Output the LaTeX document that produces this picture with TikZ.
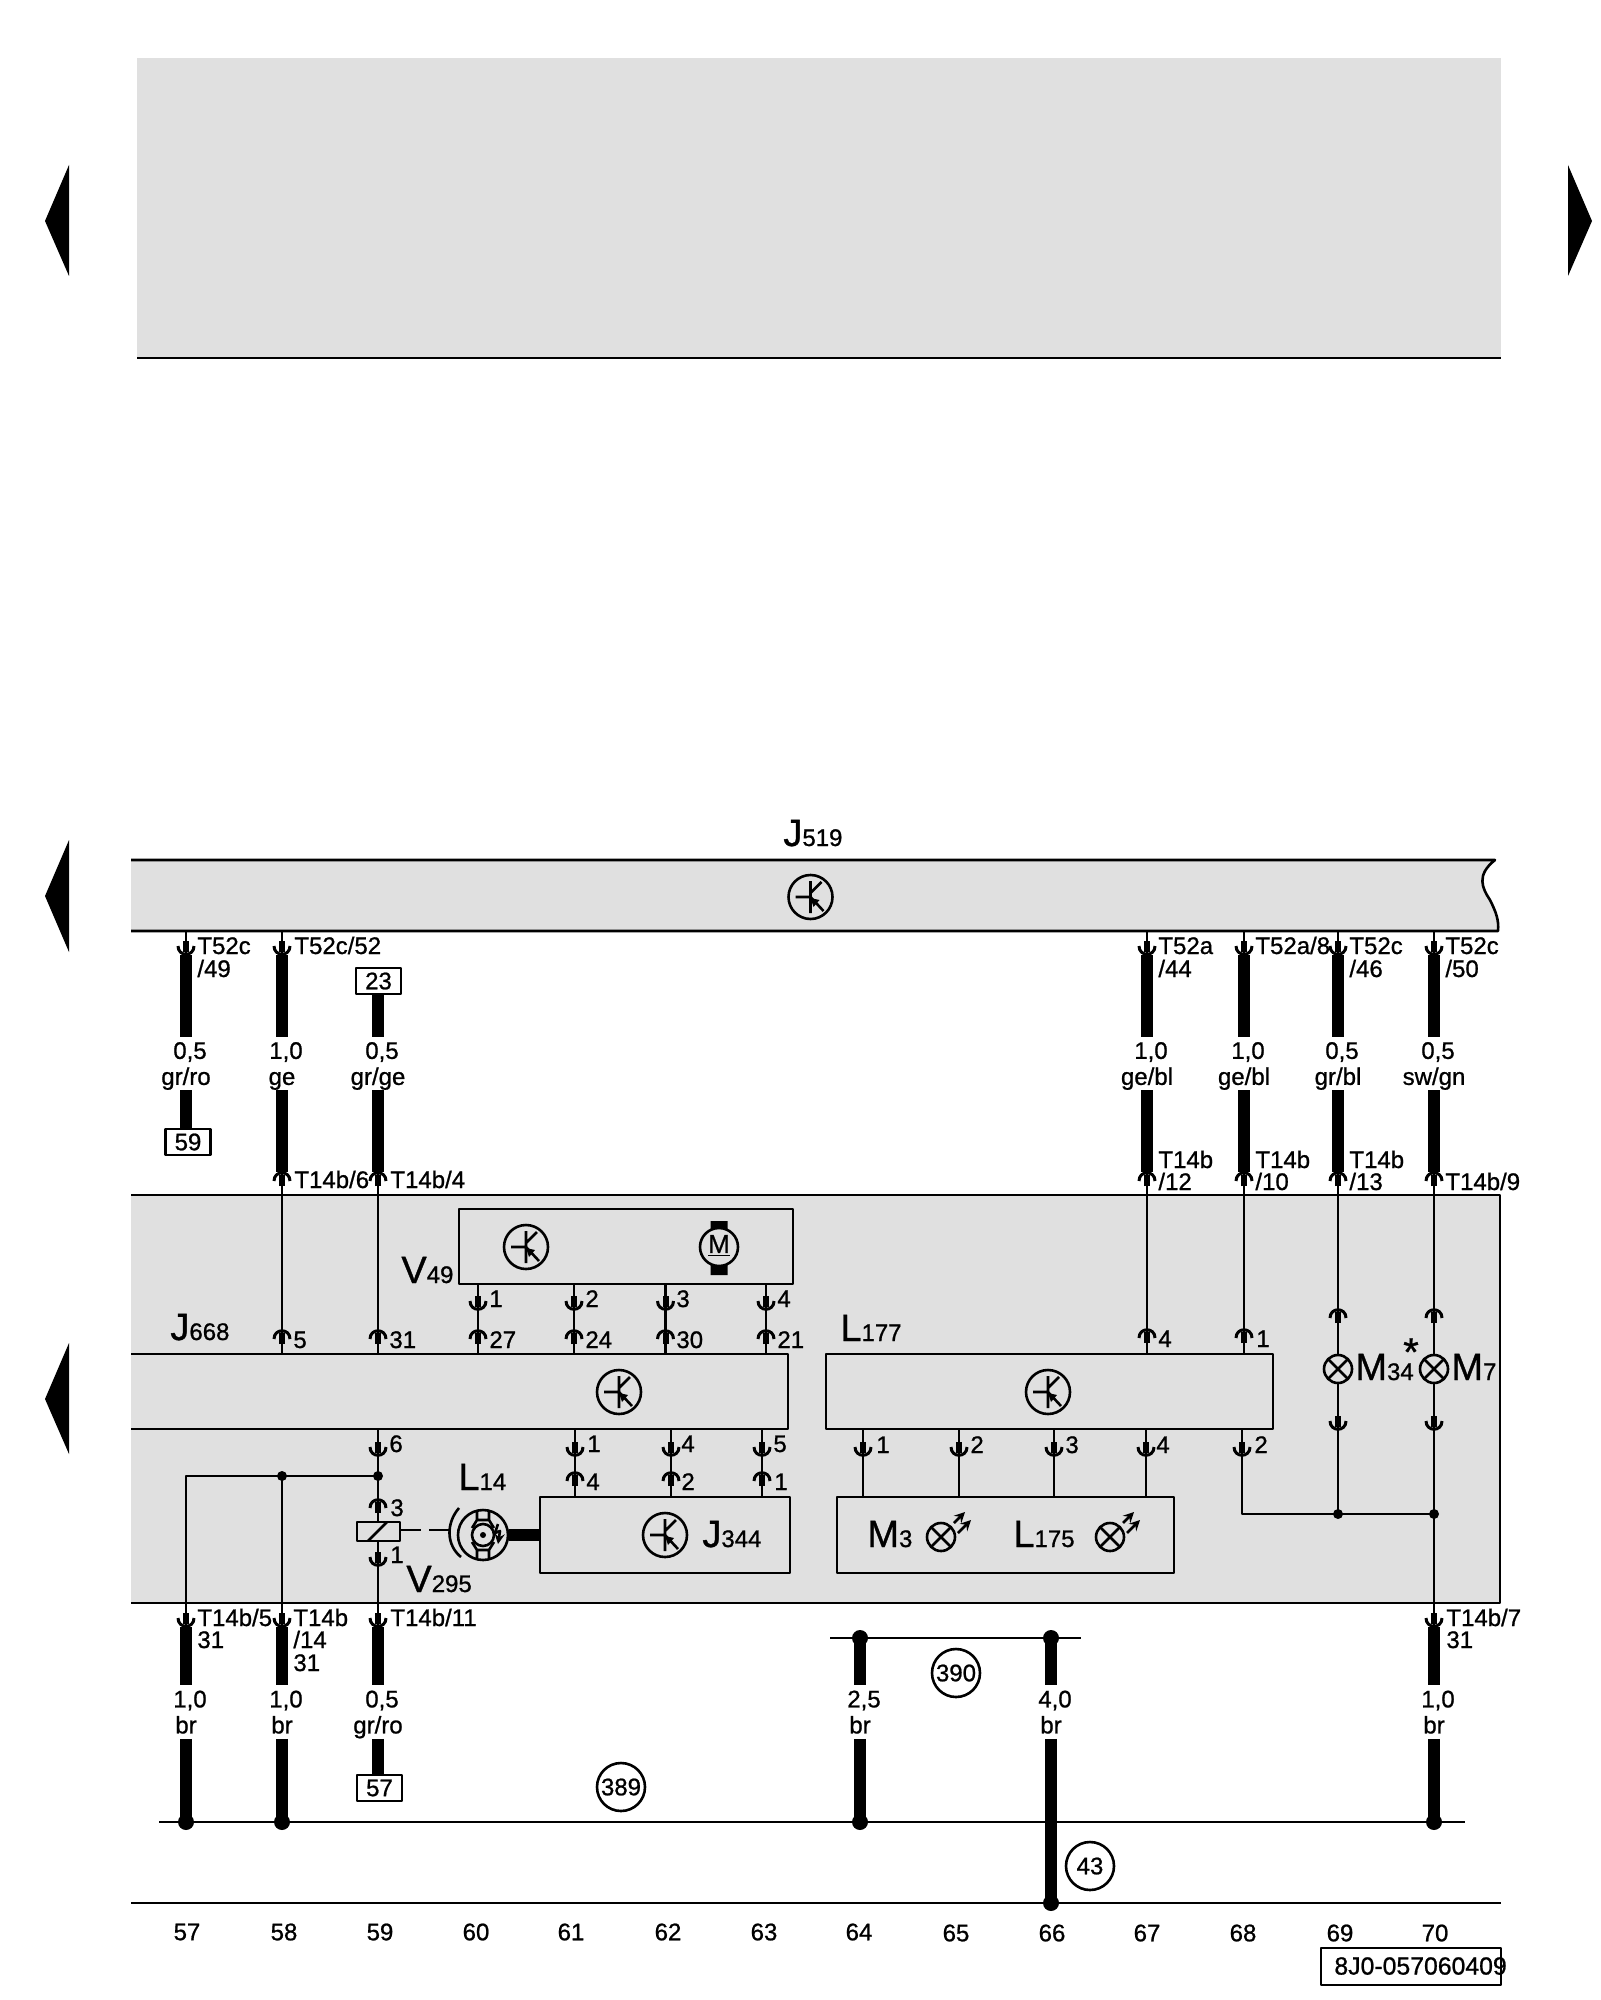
\documentclass[tikz,border=0pt]{standalone}
\usepackage{fontspec}
\setmainfont[FakeBold=0.9]{Liberation Sans}
\definecolor{modgray}{HTML}{E0E0E0}
\newcommand{\biglbl}[2]{{\fontsize{19}{19}\selectfont #1}#2}
\newcommand{\wlab}[2]{\hspace*{4pt}#1\\#2}
\tikzset{
	thinw/.style={line width=1.3pt},
	thickw/.style={line width=6pt},
	pinlab/.style={anchor=base west,inner sep=0,xshift=-0.5pt},
	gauge/.style={inner sep=0,minimum height=26.5pt,align=center,text depth=0pt},
	refbox/.style={rectangle,draw,thinw,fill=white,inner sep=0,minimum width=22.5pt,minimum height=13pt},
	refcirc/.style={circle,draw,thinw,inner sep=0,minimum size=24pt},
	modbox/.style={rectangle,draw,thinw,inner sep=0},
	sock/.pic={
		\draw[line width=3pt] (0,-14)--(0,-3);
		\draw[line width=1.5pt] (-8,-9) .. controls (-8,2) and (8,2) .. (8,-9);
	},
	plug/.pic={
		\draw[line width=3pt] (0,14)--(0,3);
		\draw[line width=1.5pt] (-8,9) .. controls (-8,-2) and (8,-2) .. (8,9);
	},
	ecu/.pic={
		\draw[thinw] (0,0) circle (22);
		\draw[thinw] (-15,0)--(0,0) (0,-16)--(0,16) (0,-4)--(11,-15) (0,0)--(13,14);
		\fill (0,1)--(9,3)--(3,10)--cycle;
	},
	motor/.pic={
		\fill (-8.5,-26) rectangle (8.5,-16) (-8.5,16) rectangle (8.5,28);
		\draw[thinw,fill=modgray] (0,0) circle (19);
		\node[inner sep=0] (mm) at (0,-1) {\fontsize{13}{13}\selectfont\underline{M}};
	},
	lamp/.pic={
		\draw[thinw] (0,0) circle (14);
		\draw[thinw] (-10,-10)--(10,10) (-10,10)--(10,-10);
	},
	led/.pic={
		\draw[thinw] (0,0) circle (14);
		\draw[thinw] (-10,-10)--(10,10) (-10,10)--(10,-10);
		\draw[thinw,-stealth] (13,-14)--(24,-25);
		\draw[thinw,-stealth] (17,-4)--(30,-17);
	},
	sensor/.pic={
		\draw[thinw] (-24,-27) .. controls (-37,-12) and (-37,10) .. (-22,22);
		\draw[thinw] (-6,-23)--(-6,-15)--(-11,-7) (6,-23)--(6,-15)--(11,-7) (-6,-15)--(6,-15);
		\draw[thinw] (-6,23)--(-6,15)--(-11,7) (6,23)--(6,15)--(11,7) (-6,15)--(6,15);
		\draw[thinw] (0,0) circle (11);
		\fill (0,0) circle (3);
		\draw[thinw,-stealth] (15,-11)--(12,-2)--(17,-4)--(15,9);
	},
}
\begin{document}
\begin{tikzpicture}[x=0.5pt,y=-0.5pt,font=\fontsize{12}{13}\selectfont,line join=round]
	\path[use as bounding box] (0,0) rectangle (1600,2000);
	% margins
	\fill (69,165)--(45,221)--(69,276)--cycle;
	\fill (69,840)--(45,896)--(69,952)--cycle;
	\fill (69,1343)--(45,1399)--(69,1454)--cycle;
	\fill (1568,165)--(1592,221)--(1568,276)--cycle;
	\fill[modgray] (137,58) rectangle (1501,358);
	\draw[thinw] (137,358)--(1501,358);
	% J519
	\coordinate (J5t) at (131,860);
	\coordinate (J5b) at (131,931);
	\coordinate (J5r) at (1498,931);
	\fill[modgray] (J5t)--(1495,860) .. controls (1476,875) and (1482,888) .. (1490,900) .. controls (1496,912) and (1499,920) .. (J5r)--(J5b)--cycle;
	\draw[thinw] (J5t)--(1495,860) .. controls (1476,875) and (1482,888) .. (1490,900) .. controls (1496,912) and (1499,920) .. (J5r)--(J5b);
	\path (784,846) node[pinlab](tJ519){\biglbl{J}{519}};
	\path (810.5,897) pic{ecu};
	% big module
	\coordinate (MT) at (131,1195);
	\coordinate (MB) at (1500,1603);
	\fill[modgray] (MT) rectangle (MB);
	\draw[thinw] (MT) -| (MB) -- (MT |- MB);
	% upper wires
	\coordinate (s49) at (186,955);
	\coordinate (s52) at (282,955);
	\coordinate (s44) at (1147,955);
	\coordinate (s8) at (1244,955);
	\coordinate (s46) at (1338,955);
	\coordinate (s50) at (1434,955);
	\coordinate (p6) at (282,1172);
	\coordinate (p4) at (378,1172);
	\coordinate (p12) at (1147,1172);
	\coordinate (p10) at (1244,1172);
	\coordinate (p13) at (1338,1172);
	\coordinate (p9) at (1434,1172);
	\path (186,1063.5) node[gauge](g49){\wlab{0,5}{gr/ro}}
	(282,1063.5) node[gauge](g52){\wlab{1,0}{ge}}
	(378,1063.5) node[gauge](g4){\wlab{0,5}{gr/ge}}
	(1147,1063.5) node[gauge](g44){\wlab{1,0}{ge/bl}}
	(1244,1063.5) node[gauge](g8){\wlab{1,0}{ge/bl}}
	(1338,1063.5) node[gauge](g46){\wlab{0,5}{gr/bl}}
	(1434,1063.5) node[gauge](g50){\wlab{0,5}{sw/gn}};
	\path (188,1142) node[refbox](r59){59}
	(378.5,981) node[refbox](r23){23};
	\draw[thickw] (s49)--(g49.north) (g49.south)--(r59.north -| g49);
	\draw[thickw] (s52)--(g52.north) (g52.south)--(p6);
	\draw[thickw] (r23.south -| g4)--(g4.north) (g4.south)--(p4);
	\draw[thickw] (s44)--(g44.north) (g44.south)--(p12);
	\draw[thickw] (s8)--(g8.north) (g8.south)--(p10);
	\draw[thickw] (s46)--(g46.north) (g46.south)--(p13);
	\draw[thickw] (s50)--(g50.north) (g50.south)--(p9);
	\draw[thinw] (s49 |- J5b)--(s49);
	\draw[thinw] (s52 |- J5b)--(s52);
	\draw[thinw] (s44 |- J5b)--(s44);
	\draw[thinw] (s8 |- J5b)--(s8);
	\draw[thinw] (s46 |- J5b)--(s46);
	\draw[thinw] (s50 |- J5b)--(s50);
	\path (198,954) node[pinlab](t49){T52c}
	(198,977) node[pinlab](t49b){/49}
	(295,954) node[pinlab](t52){T52c/52}
	(1159,954) node[pinlab](t44){T52a}
	(1159,977) node[pinlab](t44b){/44}
	(1256,954) node[pinlab](t8){T52a/8}
	(1350,954) node[pinlab](t46){T52c}
	(1350,977) node[pinlab](t46b){/46}
	(1446,954) node[pinlab](t50){T52c}
	(1446,977) node[pinlab](t50b){/50};
	\path (295,1188) node[pinlab](t6){T14b/6}
	(391,1188) node[pinlab](t4){T14b/4}
	(1159,1168) node[pinlab](t12){T14b}
	(1159,1190) node[pinlab](t12b){/12}
	(1256,1168) node[pinlab](t10){T14b}
	(1256,1190) node[pinlab](t10b){/10}
	(1350,1168) node[pinlab](t13){T14b}
	(1350,1190) node[pinlab](t13b){/13}
	(1446,1190) node[pinlab](t9){T14b/9};
	\path (s49) pic{sock} (s52) pic{sock} (s44) pic{sock} (s8) pic{sock} (s46) pic{sock} (s50) pic{sock};
	\path (p6) pic{plug} (p4) pic{plug} (p12) pic{plug} (p10) pic{plug} (p13) pic{plug} (p9) pic{plug};
	% V49
	\path (626,1246.5) node[modbox,minimum width=167pt,minimum height=37.5pt](V49){};
	\path (526,1247) pic{ecu} (719,1247) pic{motor};
	\path (402,1283) node[pinlab](tV49){\biglbl{V}{49}};
	% J668
	\coordinate (JT) at (131,1354);
	\coordinate (JB) at (788,1429);
	\draw[thinw] (JT) -| (JB) -- (JT |- JB);
	\path (619,1392) pic{ecu};
	\path (171,1340) node[pinlab](tJ668){\biglbl{J}{668}};
	\coordinate (v1) at (478,1310);
	\coordinate (v2) at (574,1310);
	\coordinate (v3) at (665.5,1310);
	\coordinate (v4) at (766,1310);
	\coordinate (a5) at (282,1330);
	\coordinate (a31) at (378,1330);
	\coordinate (a27) at (478,1330);
	\coordinate (a24) at (574,1330);
	\coordinate (a30) at (665.5,1330);
	\coordinate (a21) at (766,1330);
	\draw[thinw] (p6)--(a5)--(a5 |- JT);
	\draw[thinw] (p4)--(a31)--(a31 |- JT);
	\draw[thinw] (V49.south -| v1)--(v1)--(a27)--(a27 |- JT);
	\draw[thinw] (V49.south -| v2)--(v2)--(a24)--(a24 |- JT);
	\draw[thinw] (V49.south -| v3)--(v3)--(a30)--(a30 |- JT);
	\draw[thinw] (V49.south -| v4)--(v4)--(a21)--(a21 |- JT);
	\path (v1) pic{sock} (v2) pic{sock} (v3) pic{sock} (v4) pic{sock};
	\path (a5) pic{plug} (a31) pic{plug} (a27) pic{plug} (a24) pic{plug} (a30) pic{plug} (a21) pic{plug};
	\path (490,1307) node[pinlab](tv1){1}
	(586,1307) node[pinlab](tv2){2}
	(677,1307) node[pinlab](tv3){3}
	(778,1307) node[pinlab](tv4){4}
	(294,1348) node[pinlab](ta5){5}
	(390,1348) node[pinlab](ta31){31}
	(490,1348) node[pinlab](ta27){27}
	(586,1348) node[pinlab](ta24){24}
	(677,1348) node[pinlab](ta30){30}
	(778,1348) node[pinlab](ta21){21};
	% J344, sensor, relay
	\path (665,1535) node[modbox,minimum width=125pt,minimum height=38pt](J344){};
	\path (665,1535) pic{ecu};
	\path (703,1547) node[pinlab](tJ344){\biglbl{J}{344}};
	\path (483,1535) node[circle,draw,thinw,inner sep=0,minimum size=25pt](L14){};
	\path (L14) pic{sensor};
	\draw[line width=6pt] (L14.east)--(J344.west |- L14.east);
	\path (459,1490) node[pinlab](tL14){\biglbl{L}{14}};
	\path (378.5,1531.5) node[modbox,minimum width=21.5pt,minimum height=9.5pt](rel){};
	\coordinate (rela) at (368,1541);
	\coordinate (relb) at (387,1522);
	\coordinate (dasha) at (421,1530);
	\coordinate (dashb) at (429,1530);
	\coordinate (dashc) at (449,1530);
	\draw[thinw] (rela)--(relb);
	\draw[thinw] (rel.east |- dasha)--(dasha) (dashb)--(dashc);
	\path (407,1592) node[pinlab](tV295){\biglbl{V}{295}};
	\coordinate (s6) at (378,1456);
	\coordinate (jc) at (378,1476);
	\coordinate (jb) at (282,1476);
	\coordinate (ja) at (186,1476);
	\coordinate (p3) at (378,1499);
	\coordinate (s1) at (378,1566);
	\coordinate (b5) at (186,1627);
	\coordinate (b14) at (282,1627);
	\coordinate (b11) at (378,1627);
	\draw[thinw] (s6 |- JB)--(s6)--(jc)--(p3)--(rel.north -| p3);
	\draw[thinw] (b5)--(ja)--(jc);
	\draw[thinw] (jb)--(b14);
	\draw[thinw] (rel.south -| s1)--(s1)--(b11);
	\fill (jb) circle (5) (jc) circle (5);
	\path (s6) pic{sock} (s1) pic{sock} (p3) pic{plug};
	\path (390,1452) node[pinlab](ts6){6}
	(391,1516) node[pinlab](tp3){3}
	(391,1563) node[pinlab](ts1){1};
	\coordinate (u1) at (575,1456);
	\coordinate (u4) at (671,1456);
	\coordinate (u5) at (762,1456);
	\coordinate (d4) at (575,1472);
	\coordinate (d2) at (671,1472);
	\coordinate (d1) at (762,1472);
	\draw[thinw] (u1 |- JB)--(u1)--(d4)--(d4 |- J344.north);
	\draw[thinw] (u4 |- JB)--(u4)--(d2)--(d2 |- J344.north);
	\draw[thinw] (u5 |- JB)--(u5)--(d1)--(d1 |- J344.north);
	\path (u1) pic{sock} (u4) pic{sock} (u5) pic{sock} (d4) pic{plug} (d2) pic{plug} (d1) pic{plug};
	\path (588,1452) node[pinlab](tu1){1}
	(682,1452) node[pinlab](tu4){4}
	(774,1452) node[pinlab](tu5){5}
	(587,1490) node[pinlab](td4){4}
	(682,1490) node[pinlab](td2){2}
	(775,1490) node[pinlab](td1){1};
	% L177, M3, L175
	\path (1049.5,1391.5) node[modbox,minimum width=223.5pt,minimum height=37.5pt](L177){};
	\path (1048,1392) pic{ecu};
	\path (841,1341) node[pinlab](tL177){\biglbl{L}{177}};
	\coordinate (c4) at (1147,1329);
	\coordinate (c1) at (1244,1329);
	\draw[thinw] (p12)--(c4)--(c4 |- L177.north);
	\draw[thinw] (p10)--(c1)--(c1 |- L177.north);
	\path (c4) pic{plug} (c1) pic{plug};
	\path (1159,1347) node[pinlab](tc4){4}
	(1257,1347) node[pinlab](tc1){1};
	\path (1005.5,1535) node[modbox,minimum width=168.5pt,minimum height=38pt](M3box){};
	\path (868,1547) node[pinlab](tM3){\biglbl{M}{3}}
	(1014,1547) node[pinlab](tL175){\biglbl{L}{175}};
	\path (941,1537) pic{led} (1110,1537) pic{led};
	\coordinate (e1) at (863,1456);
	\coordinate (e2) at (959,1456);
	\coordinate (e3) at (1054,1456);
	\coordinate (e4) at (1146,1456);
	\coordinate (e5) at (1242,1456);
	\coordinate (je) at (1242,1514);
	\coordinate (jf) at (1338,1514);
	\coordinate (jg) at (1434,1514);
	\draw[thinw] (e1 |- L177.south)--(e1)--(e1 |- M3box.north);
	\draw[thinw] (e2 |- L177.south)--(e2)--(e2 |- M3box.north);
	\draw[thinw] (e3 |- L177.south)--(e3)--(e3 |- M3box.north);
	\draw[thinw] (e4 |- L177.south)--(e4)--(e4 |- M3box.north);
	\draw[thinw] (e5 |- L177.south)--(e5)--(je)--(jg);
	\path (e1) pic{sock} (e2) pic{sock} (e3) pic{sock} (e4) pic{sock} (e5) pic{sock};
	\path (877,1453) node[pinlab](te1){1}
	(971,1453) node[pinlab](te2){2}
	(1066,1453) node[pinlab](te3){3}
	(1157,1453) node[pinlab](te4){4}
	(1255,1453) node[pinlab](te5){2};
	% M34, M7
	\coordinate (k1) at (1338,1309);
	\coordinate (k2) at (1434,1309);
	\coordinate (m34) at (1338,1369);
	\coordinate (m7) at (1434,1369);
	\coordinate (n1) at (1338,1430);
	\coordinate (n2) at (1434,1430);
	\coordinate (b7) at (1434,1627);
	\draw[thinw] (p13)--(k1)--(m34)--(n1)--(jf);
	\draw[thinw] (p9)--(k2)--(m7)--(n2)--(jg)--(b7);
	\fill[modgray] (m34) circle (14) (m7) circle (14);
	\path (m34) pic{lamp} (m7) pic{lamp};
	\fill (jf) circle (5) (jg) circle (5);
	\path (k1) pic{plug} (k2) pic{plug} (n1) pic{sock} (n2) pic{sock};
	\path (1356,1380) node[pinlab](tM34){\biglbl{M}{34}}
	(1452,1380) node[pinlab](tM7){\biglbl{M}{7}}
	(1411,1352) node[inner sep=0](star){\fontsize{20}{20}\selectfont *};
	% lower wires
	\path (186,1712) node[gauge](h5){\wlab{1,0}{br}}
	(282,1712) node[gauge](h14){\wlab{1,0}{br}}
	(378,1712) node[gauge](h11){\wlab{0,5}{gr/ro}}
	(860,1712) node[gauge](h64){\wlab{2,5}{br}}
	(1051,1712) node[gauge](h66){\wlab{4,0}{br}}
	(1434,1712) node[gauge](h7){\wlab{1,0}{br}};
	\path (379.5,1788) node[refbox](r57){57};
	\coordinate (g57) at (186,1822);
	\coordinate (g58) at (282,1822);
	\coordinate (g64) at (860,1822);
	\coordinate (g70) at (1434,1822);
	\coordinate (f64) at (860,1638);
	\coordinate (f66) at (1051,1638);
	\coordinate (z66) at (1051,1903);
	\coordinate (busa) at (159,1822);
	\coordinate (busb) at (1465,1822);
	\coordinate (bara) at (830,1638);
	\coordinate (barb) at (1081,1638);
	\coordinate (basea) at (131,1903);
	\coordinate (baseb) at (1501,1903);
	\draw[thinw] (busa)--(busb);
	\draw[thinw] (bara)--(barb);
	\draw[thinw] (basea)--(baseb);
	\draw[thickw] (b5)--(h5.north) (h5.south)--(g57);
	\draw[thickw] (b14)--(h14.north) (h14.south)--(g58);
	\draw[thickw] (b11)--(h11.north) (h11.south)--(r57.north -| h11);
	\draw[thickw] (f64)--(h64.north) (h64.south)--(g64);
	\draw[thickw] (f66)--(h66.north) (h66.south)--(z66);
	\draw[thickw] (b7)--(h7.north) (h7.south)--(g70);
	\fill (g57) circle (8) (g58) circle (8) (g64) circle (8) (g70) circle (8);
	\fill (f64) circle (8) (f66) circle (8) (z66) circle (8);
	\path (198,1626) node[pinlab](t5){T14b/5}
	(198,1648) node[pinlab](t5b){31}
	(294,1626) node[pinlab](t14){T14b}
	(294,1648) node[pinlab](t14b){/14}
	(294,1671) node[pinlab](t14c){31}
	(391,1626) node[pinlab](t11){T14b/11}
	(1447,1626) node[pinlab](t7){T14b/7}
	(1447,1648) node[pinlab](t7b){31};
	\path (b5) pic{sock} (b14) pic{sock} (b11) pic{sock} (b7) pic{sock};
	\path (621,1787) node[refcirc](c389){389}
	(956,1673) node[refcirc](c390){390}
	(1090,1866) node[refcirc](c43){43};
	% current tracks
	\path (187,1932) node[inner sep=0](n57){57}
	(284,1932) node[inner sep=0](n58){58}
	(380,1932) node[inner sep=0](n59){59}
	(476,1932) node[inner sep=0](n60){60}
	(571,1932) node[inner sep=0](n61){61}
	(668,1932) node[inner sep=0](n62){62}
	(764,1932) node[inner sep=0](n63){63}
	(859,1932) node[inner sep=0](n64){64}
	(956,1933) node[inner sep=0](n65){65}
	(1052,1933) node[inner sep=0](n66){66}
	(1147,1933) node[inner sep=0](n67){67}
	(1243,1933) node[inner sep=0](n68){68}
	(1340,1933) node[inner sep=0](n69){69}
	(1435,1933) node[inner sep=0](n70){70};
	\path (1411,1966.5) node[modbox,minimum width=90pt,minimum height=18.5pt](codebox){};
	\path (1334,1966) node[anchor=west,inner sep=0](code){\fontsize{12.4}{13}\selectfont 8J0-057060409};
\end{tikzpicture}
\end{document}
